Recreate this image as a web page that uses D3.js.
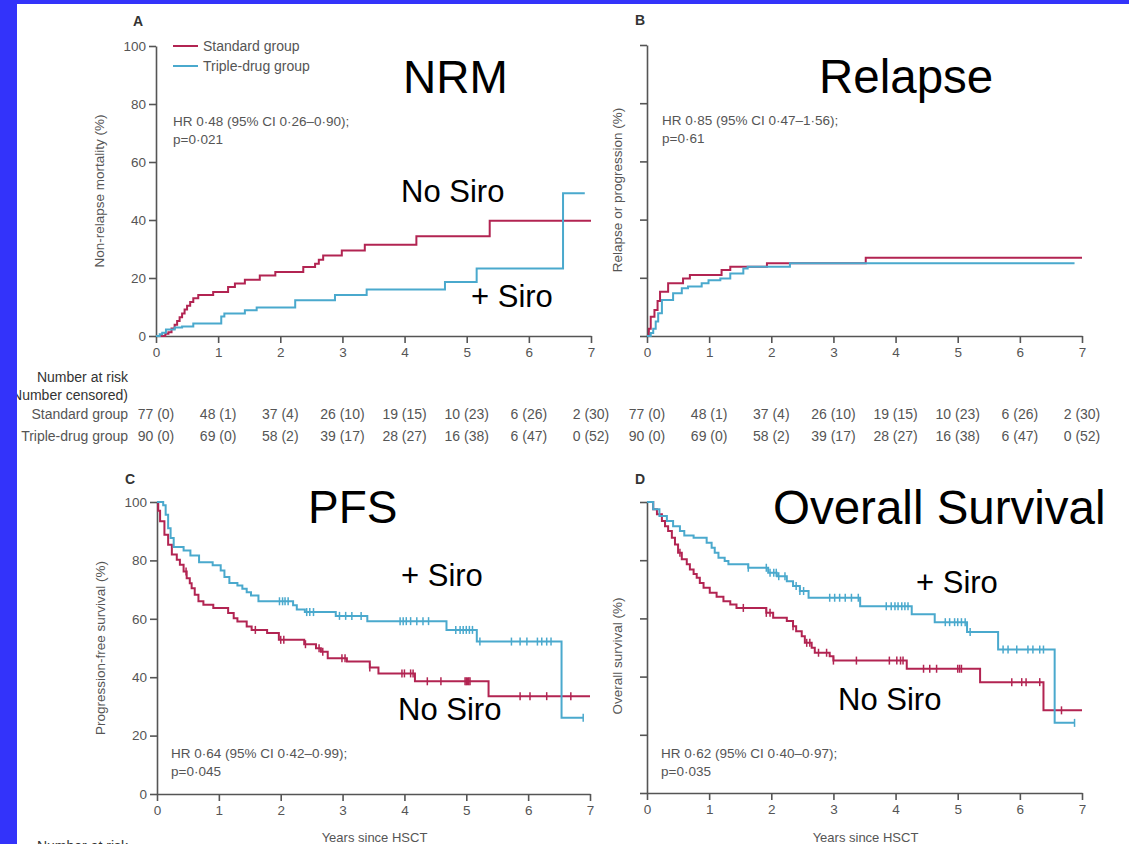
<!DOCTYPE html>
<html>
<head>
<meta charset="utf-8">
<script src="https://cdn.jsdelivr.net/npm/d3@7"></script>
<style>
  html, body { margin: 0; padding: 0; background: #fff; }
  svg { display: block; font-family: "Liberation Sans", Arial, sans-serif; }
</style>
</head>
<body>
<svg id="chart" width="1129" height="844"></svg>
<script>
// ---- Data: Kaplan–Meier step points [years, percent] ----
const nrmStandard = [[0,0],[0.15,0.8],[0.2,1.3],[0.25,2.6],[0.3,3.9],[0.34,5.2],[0.38,6.5],[0.42,7.8],[0.46,9.1],[0.5,10.4],[0.55,11.7],[0.6,13.0],[0.68,14.1],[0.92,15.2],[1.16,16.9],[1.27,18.1],[1.43,19.4],[1.67,20.9],[1.92,22.1],[2.37,23.8],[2.56,24.9],[2.62,26.3],[2.69,27.8],[2.99,29.5],[3.36,31.5],[4.19,34.4],[5.37,39.7],[7.0,39.7]];
const nrmTriple = [[0,0],[0.06,0.6],[0.1,1.1],[0.16,2.2],[0.3,2.9],[0.42,3.3],[0.6,4.3],[1.05,6.7],[1.1,7.8],[1.43,8.9],[1.62,9.8],[2.24,12.3],[2.88,14.1],[3.39,16.0],[4.65,18.6],[5.16,23.3],[6.55,49.2],[6.9,49.2]];

const relapseStandard = [[0,0],[0.03,2.5],[0.06,6.6],[0.12,8.9],[0.17,12.0],[0.21,15.2],[0.34,18.1],[0.58,19.8],[0.69,21.0],[1.2,22.7],[1.34,23.8],[1.93,25.0],[3.52,26.9],[7.0,26.9]];
const relapseTriple = [[0,0],[0.06,1.0],[0.1,2.5],[0.14,5.0],[0.18,7.8],[0.24,12.4],[0.42,14.7],[0.56,16.4],[0.66,17.0],[0.88,18.1],[0.99,19.2],[1.18,19.8],[1.34,21.5],[1.55,23.2],[1.62,23.8],[2.3,25.0],[6.88,25.0]];

const pfsStandard = [[0,100],[0.02,97.0],[0.05,93.4],[0.12,88.8],[0.18,85.4],[0.24,82.0],[0.32,80.2],[0.37,78.5],[0.43,76.2],[0.48,73.9],[0.53,72.2],[0.56,70.5],[0.61,68.2],[0.67,66.0],[0.75,64.8],[0.91,63.7],[1.15,62.0],[1.24,60.2],[1.3,59.1],[1.45,57.4],[1.53,56.2],[1.78,55.1],[1.97,52.8],[2.38,51.3],[2.57,49.9],[2.65,48.7],[2.76,46.5],[3.07,45.4],[3.44,43.3],[3.58,41.3],[4.17,38.6],[5.36,33.5],[7.0,33.5]];
const pfsTriple = [[0,100],[0.1,98.9],[0.14,95.6],[0.18,91.0],[0.22,87.7],[0.27,84.6],[0.43,83.4],[0.54,81.7],[0.68,79.4],[0.9,78.3],[1.03,76.5],[1.09,74.3],[1.17,72.3],[1.3,71.4],[1.38,70.3],[1.45,69.1],[1.52,68.0],[1.64,66.0],[2.2,64.6],[2.26,63.2],[2.39,62.3],[2.89,61.0],[3.4,59.2],[4.68,56.2],[5.17,52.2],[6.54,26.1],[6.89,26.1]];
const pfsStandardCensor = [0.47,1.59,2.0,2.05,2.4,2.62,2.68,2.99,3.04,3.44,3.96,4.0,4.1,4.14,4.37,4.59,4.98,5.0,5.02,5.04,5.06,5.87,6.03,6.3,6.69];
const pfsTripleCensor = [1.98,2.03,2.07,2.12,2.42,2.47,2.53,2.95,3.05,3.15,3.3,3.93,3.98,4.03,4.1,4.2,4.3,4.39,4.83,4.9,4.95,5.0,5.05,5.1,5.22,5.73,5.87,5.98,6.15,6.22,6.3,6.37,6.89];

const osStandard = [[0,100],[0.1,97.5],[0.16,95.8],[0.24,93.5],[0.29,91.7],[0.34,90.0],[0.4,87.7],[0.45,85.4],[0.5,82.6],[0.56,80.3],[0.64,78.6],[0.69,76.8],[0.75,75.3],[0.8,74.0],[0.85,72.2],[0.91,70.5],[1.01,68.8],[1.12,67.4],[1.23,65.9],[1.34,64.8],[1.44,63.6],[1.92,61.9],[2.03,60.2],[2.25,59.1],[2.35,57.3],[2.4,55.6],[2.49,53.9],[2.54,51.6],[2.65,49.9],[2.7,48.2],[2.94,47.0],[3.0,45.5],[4.18,42.7],[5.36,38.1],[6.38,28.4],[7.0,28.4]];
const osTriple = [[0,100],[0.1,97.5],[0.2,95.2],[0.32,93.5],[0.42,91.7],[0.53,90.0],[0.6,88.5],[0.75,87.7],[0.96,86.0],[1.04,84.3],[1.09,82.6],[1.15,80.8],[1.25,79.7],[1.31,78.6],[1.63,77.4],[1.95,75.7],[2.09,74.5],[2.25,72.8],[2.35,71.1],[2.46,69.4],[2.6,67.1],[3.43,64.2],[4.26,61.4],[4.63,58.7],[5.15,55.3],[5.65,49.3],[6.56,24.1],[6.88,24.1]];
const osStandardCensor = [0.53,1.55,1.92,1.98,2.35,2.57,2.62,2.76,2.89,3.0,3.37,3.9,4.02,4.08,4.12,4.45,4.55,4.66,5.0,5.03,5.06,5.87,6.03,6.1,6.32,6.67];
const osTripleCensor = [1.63,1.92,1.98,2.04,2.08,2.12,2.22,2.4,2.46,2.52,2.94,3.02,3.1,3.19,3.29,3.4,3.85,3.93,3.99,4.04,4.1,4.15,4.2,4.8,4.87,4.95,5.0,5.06,5.12,5.2,5.73,5.81,5.95,6.13,6.21,6.32,6.38,6.88];

// ---- Axes and number-at-risk table ----
const xTicks = [0,1,2,3,4,5,6,7];
const yTicks = [0,20,40,60,80,100];
const riskStandard = ["77 (0)","48 (1)","37 (4)","26 (10)","19 (15)","10 (23)","6 (26)","2 (30)"];
const riskTriple = ["90 (0)","69 (0)","58 (2)","39 (17)","28 (27)","16 (38)","6 (47)","0 (52)"];
const groupNames = ["Standard group","Triple-drug group"];

const RED = "#b22452";
const BLUE = "#4aa9cd";
const AXIS = "#555";

const svg = d3.select("#chart");
svg.append("rect").attr("width", 1129).attr("height", 844).attr("fill", "#fff");

const panels = [
  { letter: "A", x0: 156, x1: 591, y0: 336, y1: 46, std: nrmStandard, tri: nrmTriple,
    yLabels: true, yTitle: "Non-relapse mortality (%)", titleX: 104, titleY: 191,
    hr: ["HR 0·48 (95% CI 0·26–0·90);", "p=0·021"], hrX: 173, hrY: 126,
    letterX: 138, letterY: 26, xTitle: false,
    big: { text: "NRM", x: 403, y: 93, size: 46 },
    notes: [{ text: "No Siro", x: 401, y: 202 }, { text: "+ Siro", x: 471, y: 307 }] },
  { letter: "B", x0: 647, x1: 1082, y0: 336, y1: 45, std: relapseStandard, tri: relapseTriple,
    yLabels: false, yTitle: "Relapse or progression (%)", titleX: 622, titleY: 190,
    hr: ["HR 0·85 (95% CI 0·47–1·56);", "p=0·61"], hrX: 662, hrY: 125,
    letterX: 640, letterY: 25, xTitle: false,
    big: { text: "Relapse", x: 819, y: 93, size: 47.5 }, notes: [] },
  { letter: "C", x0: 157, x1: 590, y0: 794, y1: 502, std: pfsStandard, tri: pfsTriple,
    stdCensor: pfsStandardCensor, triCensor: pfsTripleCensor,
    yLabels: true, yTitle: "Progression-free survival (%)", titleX: 105, titleY: 648,
    hr: ["HR 0·64 (95% CI 0·42–0·99);", "p=0·045"], hrX: 171, hrY: 758,
    letterX: 130, letterY: 484, xTitle: true,
    big: { text: "PFS", x: 308, y: 523, size: 46 },
    notes: [{ text: "+ Siro", x: 401, y: 586 }, { text: "No Siro", x: 398, y: 720 }] },
  { letter: "D", x0: 647, x1: 1082, y0: 793, y1: 502, std: osStandard, tri: osTriple,
    stdCensor: osStandardCensor, triCensor: osTripleCensor,
    yLabels: false, yTitle: "Overall survival (%)", titleX: 622, titleY: 656,
    hr: ["HR 0·62 (95% CI 0·40–0·97);", "p=0·035"], hrX: 661, hrY: 758,
    letterX: 640, letterY: 484, xTitle: true,
    big: { text: "Overall Survival", x: 773, y: 524, size: 47.5 },
    notes: [{ text: "+ Siro", x: 916, y: 593 }, { text: "No Siro", x: 838, y: 710 }] }
];

// value of a step curve at time t
function stepValue(series, t) {
  let v = series[0][1];
  for (const [tt, vv] of series) { if (tt <= t) v = vv; else break; }
  return v;
}

panels.forEach(p => {
  const x = d3.scaleLinear().domain([0, 7]).range([p.x0, p.x1]);
  const y = d3.scaleLinear().domain([0, 100]).range([p.y0, p.y1]);
  p.x = x;
  const g = svg.append("g");

  // axes
  const yAxis = d3.axisLeft(y).tickValues(yTicks).tickSize(7).tickPadding(3).tickSizeOuter(0)
    .tickFormat(p.yLabels ? d3.format("d") : "");
  const xAxis = d3.axisBottom(x).tickValues(xTicks).tickSize(7).tickPadding(4).tickSizeOuter(0)
    .tickFormat(d3.format("d"));

  const ya = g.append("g").attr("transform", `translate(${p.x0},0)`).call(yAxis);
  const xa = g.append("g").attr("transform", `translate(0,${p.y0})`).call(xAxis);
  [ya, xa].forEach(a => {
    a.select(".domain").attr("stroke", AXIS).attr("stroke-width", 1.6);
    a.selectAll(".tick line").attr("stroke", AXIS).attr("stroke-width", 1.6);
    a.selectAll(".tick text").attr("fill", AXIS).attr("font-size", 13.5)
      .attr("font-family", '"Liberation Sans", Arial, sans-serif');
  });

  // step curves
  const line = d3.line().x(d => x(d[0])).y(d => y(d[1])).curve(d3.curveStepAfter);
  [[p.std, RED, p.stdCensor], [p.tri, BLUE, p.triCensor]].forEach(([series, color, censor]) => {
    g.append("path").datum(series).attr("d", line)
      .attr("fill", "none").attr("stroke", color).attr("stroke-width", 2);
    if (censor) {
      g.selectAll(null).data(censor).join("line")
        .attr("x1", d => x(d)).attr("x2", d => x(d))
        .attr("y1", d => y(stepValue(series, d)) - 4)
        .attr("y2", d => y(stepValue(series, d)) + 4)
        .attr("stroke", color).attr("stroke-width", 1.5);
    }
  });

  // panel letter
  g.append("text").attr("x", p.letterX).attr("y", p.letterY).attr("text-anchor", "middle")
    .attr("font-size", 14).attr("font-weight", "bold").attr("fill", "#333").text(p.letter);

  // y-axis title
  g.append("text").attr("transform", `translate(${p.titleX},${p.titleY}) rotate(-90)`)
    .attr("text-anchor", "middle").attr("font-size", 13.5).attr("fill", AXIS).text(p.yTitle);

  // x-axis title
  if (p.xTitle) {
    g.append("text").attr("x", (p.x0 + p.x1) / 2 + 1).attr("y", 842).attr("text-anchor", "middle")
      .attr("font-size", 13).attr("fill", AXIS).text("Years since HSCT");
  }

  // hazard ratio annotation
  p.hr.forEach((s, i) => {
    g.append("text").attr("x", p.hrX).attr("y", p.hrY + i * 18)
      .attr("font-size", 13.5).attr("fill", AXIS).text(s);
  });

  // large labels
  g.append("text").attr("x", p.big.x).attr("y", p.big.y)
    .attr("font-size", p.big.size).attr("fill", "#000").text(p.big.text);
  p.notes.forEach(n => {
    g.append("text").attr("x", n.x).attr("y", n.y)
      .attr("font-size", 31).attr("fill", "#000").text(n.text);
  });
});

// legend (panel A)
const legend = svg.append("g");
[[RED, 0], [BLUE, 1]].forEach(([c, i]) => {
  legend.append("line").attr("x1", 173).attr("x2", 198).attr("y1", 46 + i * 20).attr("y2", 46 + i * 20)
    .attr("stroke", c).attr("stroke-width", 2);
  legend.append("text").attr("x", 203).attr("y", 51 + i * 20)
    .attr("font-size", 14).attr("fill", AXIS).text(groupNames[i]);
});

// number-at-risk table
const risk = svg.append("g").attr("font-size", 14).attr("fill", AXIS);
const labelX = 128;
risk.append("text").attr("x", labelX).attr("y", 382).attr("text-anchor", "end").attr("fill", "#333").text("Number at risk");
risk.append("text").attr("x", labelX).attr("y", 400).attr("text-anchor", "end").attr("fill", "#333").text("(Number censored)");
risk.append("text").attr("x", labelX).attr("y", 419).attr("text-anchor", "end").text(groupNames[0]);
risk.append("text").attr("x", labelX).attr("y", 441).attr("text-anchor", "end").text(groupNames[1]);
[panels[0], panels[1]].forEach(p => {
  xTicks.forEach((t, i) => {
    risk.append("text").attr("x", p.x(t)).attr("y", 419).attr("text-anchor", "middle").text(riskStandard[i]);
    risk.append("text").attr("x", p.x(t)).attr("y", 441).attr("text-anchor", "middle").text(riskTriple[i]);
  });
});
// heading of the next table, running off the bottom edge
risk.append("text").attr("x", labelX).attr("y", 851).attr("text-anchor", "end").attr("fill", "#333").text("Number at risk");

// slide frame
svg.append("rect").attr("x", 0).attr("y", 0).attr("width", 17).attr("height", 844).attr("fill", "#3333fa");
svg.append("rect").attr("x", 0).attr("y", 0).attr("width", 1129).attr("height", 4).attr("fill", "#3333fa");
</script>
</body>
</html>
